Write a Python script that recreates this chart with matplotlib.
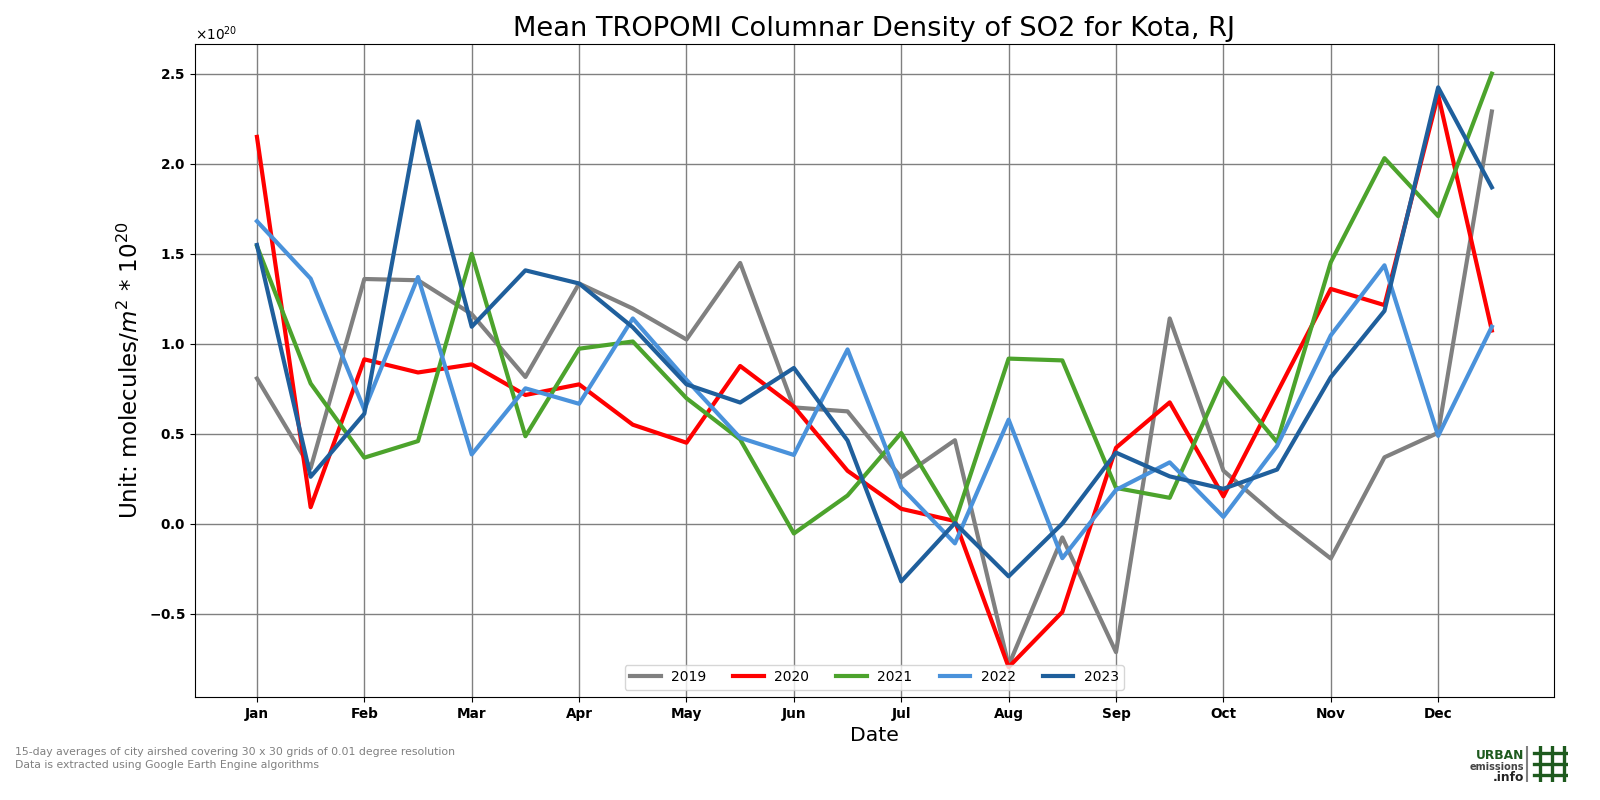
import matplotlib
matplotlib.use("Agg")
import matplotlib.pyplot as plt
from matplotlib.ticker import ScalarFormatter
import numpy as np

months = ["Jan", "Feb", "Mar", "Apr", "May", "Jun", "Jul", "Aug", "Sep", "Oct", "Nov", "Dec"]
years = ["2019", "2020", "2021", "2022", "2023"]
colors = ["#808080", "#ff0000", "#4ca32c", "#4a92db", "#1f5f9c"]

v2019 = [0.808, 0.31, 1.36, 1.353, 1.165, 0.816, 1.335, 1.196, 1.024, 1.449, 0.647, 0.625,
         0.258, 0.465, -0.786, -0.075, -0.712, 1.141, 0.296, 0.039, -0.192, 0.370, 0.506, 2.290]
v2020 = [2.149, 0.093, 0.914, 0.841, 0.886, 0.716, 0.775, 0.551, 0.451, 0.877, 0.652, 0.295,
         0.084, 0.016, -0.795, -0.489, 0.423, 0.675, 0.153, 0.729, 1.305, 1.215, 2.382, 1.074]
v2021 = [1.543, 0.780, 0.368, 0.460, 1.500, 0.487, 0.973, 1.013, 0.698, 0.469, -0.053, 0.158,
         0.505, 0.011, 0.918, 0.908, 0.200, 0.145, 0.811, 0.454, 1.453, 2.031, 1.709, 2.500]
v2022 = [1.681, 1.362, 0.634, 1.371, 0.386, 0.753, 0.667, 1.141, 0.800, 0.478, 0.383, 0.969,
         0.203, -0.108, 0.579, -0.190, 0.189, 0.342, 0.039, 0.433, 1.047, 1.436, 0.489, 1.095]
v2023 = [1.549, 0.262, 0.612, 2.235, 1.095, 1.408, 1.335, 1.092, 0.775, 0.674, 0.866, 0.463,
         -0.319, 0.005, -0.291, 0.002, 0.396, 0.264, 0.195, 0.302, 0.815, 1.183, 2.424, 1.869]
series = [v2019, v2020, v2021, v2022, v2023]
scale = 1e20

fig = plt.figure(figsize=(16, 8), dpi=100)
ax = fig.add_axes([0.122, 0.129, 0.849, 0.816])
x = np.arange(len(v2019))
for yr, vals, c in zip(years, series, colors):
    ax.plot(x, np.array(vals) * scale, color=c, lw=3, label=yr, zorder=3)

fmt = ScalarFormatter(useMathText=True)
ax.yaxis.set_major_formatter(fmt)
ax.yaxis.get_offset_text().set_fontsize(9.8)

ax.set_xticks(np.arange(0, 24, 2))
ax.set_xticklabels(months, fontweight="bold", fontsize=9.8)
ax.tick_params(axis="y", labelsize=9.8)
ax.grid(True, color="#808080", lw=1, zorder=0)
ax.set_title("Mean TROPOMI Columnar Density of SO2 for Kota, RJ", fontsize=19.6)
ax.set_xlabel("Date", fontsize=14.7)
ax.set_ylabel("Unit: molecules/$m^2$ * $10^{20}$", fontsize=16.6)
fig.canvas.draw()
for t in ax.get_yticklabels():
    t.set_fontweight("bold")
ax.legend(loc="lower center", ncol=5, fontsize=10, handlelength=2.2, columnspacing=1.95,
          handletextpad=0.75, borderaxespad=0.5)

fig.text(0.0095, 0.056, "15-day averages of city airshed covering 30 x 30 grids of 0.01 degree resolution",
         fontsize=7.85, color="#808080")
fig.text(0.0095, 0.040, "Data is extracted using Google Earth Engine algorithms",
         fontsize=7.85, color="#808080")

# logo
green = "#1e5a1e"
fig.text(0.9525, 0.051, "URBAN", fontsize=8.8, fontweight="bold", color=green, ha="right")
fig.text(0.9525, 0.038, "emissions", fontsize=7, fontweight="bold", color="#444444", ha="right")
fig.text(0.9525, 0.024, ".info", fontsize=8.8, fontweight="bold", color="#222222", ha="right")
lax = fig.add_axes([0.952, 0.022, 0.028, 0.046])
lax.set_xlim(0, 1); lax.set_ylim(0, 1); lax.axis("off")
lax.plot([0.08, 0.08], [0.02, 0.98], color="#808080", lw=1.5)
for p in [0.38, 0.64, 0.9]:
    lax.plot([p, p], [0.02, 0.98], color=green, lw=2.4)
for p in [0.2, 0.5, 0.8]:
    lax.plot([0.24, 1.0], [p, p], color=green, lw=2.4)

fig.savefig("out.png", dpi=100)
